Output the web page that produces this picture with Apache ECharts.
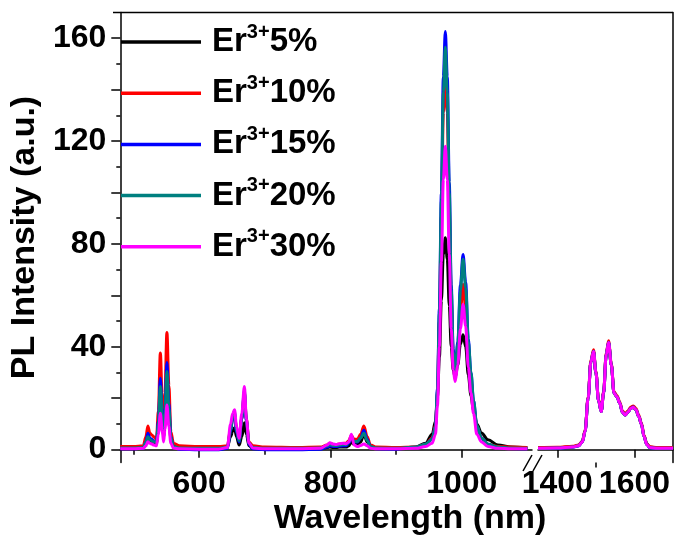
<!DOCTYPE html>
<html lang="en">
<head>
    <meta charset="UTF-8"/>
    <title>PL spectra Er3+</title>
    <script src="https://cdn.jsdelivr.net/npm/echarts@6/dist/echarts.min.js"></script>
    <style>
        html, body { margin: 0; padding: 0; background: #fff; }
        #chart { width: 674px; height: 535px; }
    </style>
</head>
<body>
<div id="chart"></div>
<script type="text/javascript">
    // wavelengths (nm), left part of the broken axis
    var wlLeft = [
        480, 500, 515, 519, 522, 525, 528, 531, 535, 538, 541, 544, 546, 548, 551, 554, 557, 561, 570,
        600, 630, 643, 648, 651, 654, 657, 661, 665, 669, 672, 676, 682, 700,
        750, 785, 795, 799, 804, 809, 814, 819, 824, 828, 832, 836, 841, 846, 851, 856, 861, 870, 900,
        930, 945, 955, 960, 963, 966, 969, 972, 975, 978, 981, 984, 987, 990, 994, 998, 1002, 1006, 1010, 1014, 1018, 1023, 1030, 1040, 1055, 1075, 1100
    ];
    // wavelengths (nm), right part
    var wlRight = [
        1350, 1400, 1440, 1455, 1465, 1472, 1480, 1487, 1494, 1500,
        1507, 1514, 1520, 1527, 1533, 1540, 1547, 1555, 1562, 1569,
        1576, 1583, 1590, 1597, 1604, 1611, 1618, 1625, 1632, 1640,
        1660, 1680, 1700
    ];

    var names = ['Er3+5%', 'Er3+10%', 'Er3+15%', 'Er3+20%', 'Er3+30%'];
    var colors = ['#000000', '#ff0000', '#0000ff', '#008080', '#ff00ff'];

    // PL intensity (a.u.)
    var er5Left = [
        0.5, 0.5, 0.8, 2, 4.5, 3.5, 3.2, 2.5, 2, 8, 20, 10, 5, 12, 26, 14, 4, 1.5, 0.8,
        0.5, 0.5, 1, 5, 7, 8.5, 5, 1.8, 5, 10.5, 6, 1.5, 0.5, 0.3,
        0.3, 0.5, 0.8, 1, 0.8, 0.8, 1, 1, 1, 1.5, 3, 2, 2, 3, 6, 3, 1, 0.5, 0.5,
        1, 2.5, 6, 11, 20, 36, 58, 76, 82.4, 74, 56, 40, 31, 28, 33, 41, 44.7, 40, 29, 21, 15, 10, 6.5, 3.8, 1.8, 1, 0.6
    ];
    var er10Left = [
        1.2, 1.2, 1.5, 5, 9.2, 6.5, 5.7, 5, 4, 15, 37.6, 18, 8, 22, 45.6, 25, 7, 2.5, 1.5,
        1.2, 1.2, 1.5, 8, 12, 13.5, 8, 3.5, 12, 22, 12, 3, 1.5, 1,
        0.8, 1, 1.8, 2.5, 2, 2, 2.2, 2.4, 2.5, 3.5, 5.5, 4, 4, 6, 9.2, 5, 1.8, 1, 0.8,
        1, 2, 4.5, 9.5, 22, 50, 91, 131, 147, 131, 94, 58, 36, 29, 37, 54, 64.2, 55, 37, 27, 17, 9, 4.5, 2, 1.2, 1, 0.8
    ];
    var er15Left = [
        0.3, 0.3, 0.5, 3, 6.4, 4.5, 4, 3.2, 3, 11, 27.8, 13, 6, 16, 33.9, 18, 5, 1, 0.2,
        0, 0, 0.5, 7, 12, 14, 7, 3, 12, 22, 11, 2, 0.3, 0,
        0, 0.2, 1, 1.5, 1.2, 1.2, 1.4, 1.5, 1.5, 2.5, 4.5, 3, 3, 4.5, 7.5, 4, 1, 0.3, 0.2,
        0.8, 2, 4, 9, 24, 55, 100, 145, 162.6, 145, 104, 64, 39, 30, 42, 64, 75.9, 65, 43, 30, 19, 9, 4.5, 2, 0.8, 0.4, 0.3
    ];
    var er20Left = [
        0.6, 0.6, 0.8, 2.8, 5, 3.8, 3.5, 3, 2.8, 10, 24.6, 12, 5.5, 14, 30.4, 16, 4.5, 1.2, 0.6,
        0.5, 0.5, 1, 7.5, 12.5, 14.5, 7.5, 3.5, 12.5, 23, 11.5, 2.5, 0.8, 0.5,
        0.5, 0.6, 1.5, 2, 1.6, 1.6, 1.8, 2, 2, 3, 5, 3.2, 3.2, 4.5, 6.4, 3.5, 1.2, 0.6, 0.5,
        1, 2.2, 4, 9, 23, 53, 97, 139, 156.5, 139, 100, 62, 38, 30, 41, 62, 74, 63, 42, 30, 19, 9.5, 4.5, 2.2, 1, 0.6, 0.5
    ];
    var er30Left = [
        0.3, 0.3, 0.5, 1.5, 3.1, 2.5, 2.2, 1.8, 1.5, 6, 14.2, 7, 3, 8, 17.4, 9, 2.5, 0.6, 0.3,
        0.2, 0.2, 0.8, 10, 14, 15.5, 9, 4.4, 14, 24.6, 12, 2.5, 0.6, 0.3,
        0.3, 0.5, 1.8, 2.7, 2.2, 2, 2.3, 2.5, 2.3, 3, 6, 1.8, 1.2, 1.6, 2.2, 1.5, 0.5, 0.3, 0.3,
        0.5, 1.2, 2.5, 6, 17, 40, 73, 105, 118, 105, 76, 47, 31, 26.5, 33, 47, 56.4, 48, 32, 22, 14, 6, 3, 1.2, 0.5, 0.3, 0.3
    ];

    var er5Right = [
        0.6, 0.7, 1.1, 1.6, 3.2, 7.2, 20, 34, 38, 30,
        19, 14.8, 22, 37, 41.5, 33, 22, 20.5, 18, 14.5,
        13.5, 14.5, 16, 16.5, 15.5, 13, 10, 5.2, 2.2, 1,
        0.6, 0.6, 0.6
    ];
    var er10Right = [
        0.8, 0.9, 1.3, 1.8, 3.3, 7.5, 20.5, 34.7, 38.8, 30.5,
        19.5, 15.2, 22.5, 37.6, 42.3, 33.5, 22.5, 21, 18.5, 15,
        14, 15, 16.5, 17, 16, 13.5, 10.5, 5.5, 2.3, 1.1,
        0.8, 0.8, 0.8
    ];
    var er15Right = [
        0.4, 0.5, 0.9, 1.4, 3, 7, 20, 34, 38.3, 30,
        19, 14.8, 22, 37, 41.8, 33, 22, 20.5, 18, 14.5,
        13.5, 14.5, 16, 16.6, 15.5, 13, 10, 5, 2, 0.7,
        0.4, 0.4, 0.4
    ];
    var er20Right = [
        0.5, 0.6, 1, 1.5, 3, 7, 20, 34, 38.2, 30,
        19, 14.8, 22, 37, 41.7, 33, 22, 20.5, 18, 14.5,
        13.5, 14.5, 16, 16.5, 15.5, 13, 10, 5, 2, 0.8,
        0.5, 0.5, 0.5
    ];
    var er30Right = [
        0.5, 0.6, 1, 1.5, 3, 7, 20, 34, 38.2, 30,
        19, 14.8, 22, 37, 41.7, 33, 22, 20.5, 18, 14.5,
        13.5, 14.5, 16, 16.5, 15.5, 13, 10, 5, 2, 0.8,
        0.5, 0.5, 0.5
    ];

    // axis ticks / labels
    var xMajorLeft = [600, 800, 1000];
    var xMinorLeft = [500, 700, 900];
    var xMajorRight = [1400, 1600];
    var xMinorRight = [1500];
    var yLabels = [0, 40, 80, 120, 160];
    var yMajor = [0, 20, 40, 60, 80, 100, 120, 140, 160];
    var yMinor = [10, 30, 50, 70, 90, 110, 130, 150];

    var leftData = [er5Left, er10Left, er15Left, er20Left, er30Left];
    var rightData = [er5Right, er10Right, er15Right, er20Right, er30Right];

    function pairs(xs, ys) {
        return xs.map(function (x, i) { return [x, ys[i]]; });
    }
    function plain(v) { return String(v); }

    var FONT = '"Liberation Sans", Arial, sans-serif';

    var series = [];
    for (var i = 0; i < names.length; i++) {
        series.push({
            name: names[i], type: 'line', xAxisIndex: 0, yAxisIndex: 0,
            data: pairs(wlLeft, leftData[i]),
            showSymbol: false, smooth: 0.35, smoothMonotone: 'x',
            lineStyle: {color: colors[i], width: 3}, itemStyle: {color: colors[i]},
            z: 2 + i
        });
        series.push({
            name: names[i], type: 'line', xAxisIndex: 2, yAxisIndex: 2,
            data: pairs(wlRight, rightData[i]),
            showSymbol: false, smooth: 0.35, smoothMonotone: 'x',
            lineStyle: {color: colors[i], width: 3}, itemStyle: {color: colors[i]},
            z: 2 + i
        });
    }

    var axisLine = {show: true, lineStyle: {color: '#000', width: 1.5}};
    var tickLabel = {fontSize: 32, fontWeight: 'bold', color: '#000', fontFamily: FONT, formatter: plain, hideOverlap: false};

    var option = {
        animation: false,
        backgroundColor: '#fff',
        textStyle: {fontFamily: FONT},
        title: {
            text: 'Wavelength (nm)',
            left: 405, top: 497, textAlign: 'center',
            textStyle: {fontSize: 34, fontWeight: 'bold', color: '#000', fontFamily: FONT}
        },
        legend: {
            orient: 'vertical', left: 121, top: 22, padding: 0,
            data: names, icon: 'rect', itemWidth: 80, itemHeight: 3.5, itemGap: 14.7,
            formatter: function (name) {
                var rest = name.replace('Er3+', '');
                return '{g|}{b|Er}{s|3+}{b|' + rest + '}';
            },
            textStyle: {
                color: '#000',
                rich: {
                    g: {width: 6},
                    b: {fontSize: 33, fontWeight: 'bold', lineHeight: 40, fontFamily: FONT, color: '#000'},
                    s: {fontSize: 20, fontWeight: 'bold', lineHeight: 28, verticalAlign: 'top', fontFamily: FONT, color: '#000'}
                }
            }
        },
        grid: [
            {left: 113, top: 12.5, width: 419, height: 450},
            {left: 538, top: 12.5, width: 135, height: 450}
        ],
        xAxis: [
            {
                gridIndex: 0, type: 'value', min: 480, max: 1107, position: 'bottom',
                axisLine: axisLine,
                axisTick: {customValues: xMajorLeft, length: 8, lineStyle: {color: '#000', width: 1.5}},
                axisLabel: Object.assign({customValues: xMajorLeft, margin: 6}, tickLabel),
                splitLine: {show: false}
            },
            {
                gridIndex: 0, type: 'value', min: 480, max: 1107, position: 'bottom',
                axisLine: {show: false},
                axisTick: {customValues: xMinorLeft, length: 5, lineStyle: {color: '#000', width: 1.5}},
                axisLabel: {show: false}, splitLine: {show: false}
            },
            {
                gridIndex: 1, type: 'value', min: 1350, max: 1700, position: 'bottom',
                axisLine: axisLine,
                axisTick: {customValues: xMajorRight, length: 8, lineStyle: {color: '#000', width: 1.5}},
                axisLabel: Object.assign({customValues: xMajorRight, margin: 6}, tickLabel),
                splitLine: {show: false}
            },
            {
                gridIndex: 1, type: 'value', min: 1350, max: 1700, position: 'bottom',
                axisLine: {show: false},
                axisTick: {customValues: xMinorRight, length: 5, lineStyle: {color: '#000', width: 1.5}},
                axisLabel: {show: false}, splitLine: {show: false}
            }
        ],
        yAxis: [
            {
                gridIndex: 0, type: 'value', min: -5, max: 170, position: 'left',
                name: 'PL Intensity (a.u.)', nameLocation: 'middle', nameGap: 72,
                nameTextStyle: {fontSize: 34, fontWeight: 'bold', color: '#000', fontFamily: FONT},
                axisLine: axisLine,
                axisTick: {customValues: yMajor, length: 9, lineStyle: {color: '#000', width: 1.5}},
                axisLabel: Object.assign({customValues: yLabels, margin: 14}, tickLabel),
                splitLine: {show: false}
            },
            {
                gridIndex: 0, type: 'value', min: -5, max: 170, position: 'left',
                axisLine: {show: false},
                axisTick: {customValues: yMinor, length: 4, lineStyle: {color: '#000', width: 1.5}},
                axisLabel: {show: false}, splitLine: {show: false}
            },
            {
                gridIndex: 1, type: 'value', min: -5, max: 170, position: 'right',
                axisLine: axisLine, axisTick: {show: false}, axisLabel: {show: false},
                splitLine: {show: false}
            }
        ],
        // frame top line and the axis break marks
        graphic: [
            {type: 'line', shape: {x1: 113, y1: 12.5, x2: 673, y2: 12.5}, style: {stroke: '#000', lineWidth: 1.5}, z: 10},
            {type: 'line', shape: {x1: 523, y1: 471, x2: 532, y2: 455}, style: {stroke: '#000', lineWidth: 1.5}, z: 10},
            {type: 'line', shape: {x1: 533, y1: 471, x2: 542, y2: 455}, style: {stroke: '#000', lineWidth: 1.5}, z: 10}
        ],
        series: series
    };

    var myChart = echarts.init(document.getElementById('chart'));
    myChart.setOption(option);
</script>
</body>
</html>
